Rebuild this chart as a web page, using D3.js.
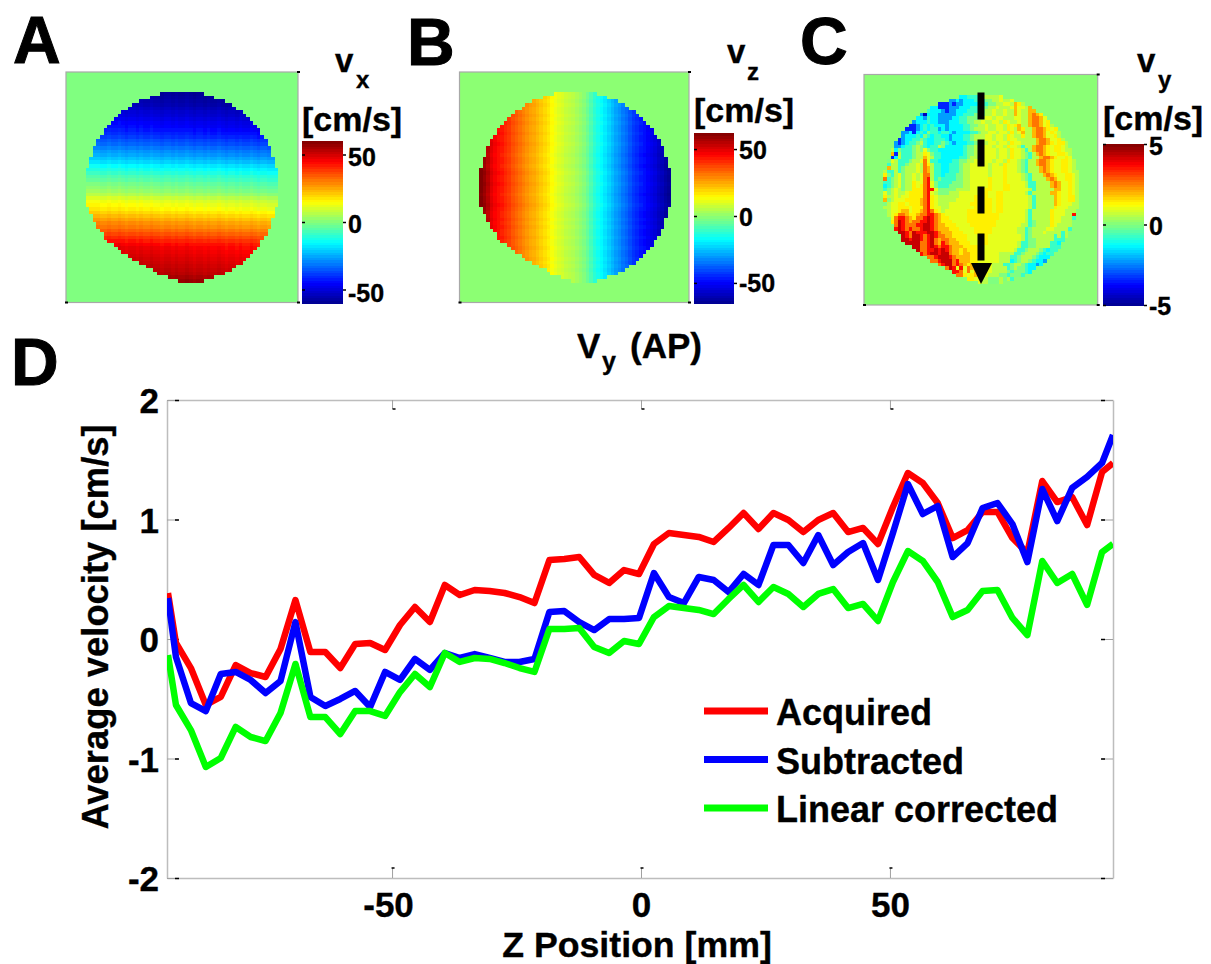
<!DOCTYPE html>
<html>
<head>
<meta charset="utf-8">
<title>Velocity maps and profile</title>
<script src="https://cdn.jsdelivr.net/npm/d3@7"></script>
<style>
    body { margin: 0; background: #fff; }
    svg { display: block; }
    text { font-family: "Liberation Sans", Arial, sans-serif; font-weight: bold; fill: #000; stroke: #000; stroke-width: 0.35; }
</style>
</head>
<body>
<div id="chart"></div>
<script>
// D panel, values
const zPosition = [-95, -93.4, -90.4, -87.4, -84.4, -81.4, -78.4, -75.4, -72.4, -69.4, -66.4, -63.4, -60.4, -57.4, -54.4, -51.4,
    -48.4, -45.4, -42.4, -39.4, -36.4, -33.4, -30.4, -27.4, -24.4, -21.4, -18.4, -15.4, -12.4, -9.4, -6.4, -3.4,
    -0.4, 2.6, 5.6, 8.6, 11.6, 14.6, 17.6, 20.6, 23.6, 26.6, 29.6, 32.6, 35.6, 38.6, 41.6, 44.6,
    47.6, 50.6, 53.6, 56.6, 59.6, 62.6, 65.6, 68.6, 71.6, 74.6, 77.6, 80.6, 83.6, 86.6, 89.6, 92.6, 94.8];
const acquired = [.385, -.033, -.243, -.552, -.485, -.218, -.285, -.318, -.084, .326, -.109, -.109, -.243, -.042, -.033, -.092,
    .117, .268, .142, .452, .368, .41, .402, .385, .351, .301, .661, .669, .686, .536, .469, .577,
    .544, .795, .887, .87, .854, .812, .929, 1.054, .921, 1.054, .996, .895, .996, 1.054, .895, .929,
    .795, 1.105, 1.389, 1.305, 1.138, .845, .912, 1.063, 1.063, .845, .72, 1.322, 1.146, 1.188, .954, 1.397, 1.473];
const subtracted = [.343, -.151, -.536, -.603, -.293, -.276, -.343, -.452, -.351, .142, -.485, -.561, -.502, -.435, -.569, -.276,
    -.343, -.167, -.259, -.117, -.159, -.126, -.159, -.192, -.192, -.167, .226, .234, .142, .075, .167, .167,
    .176, .552, .351, .301, .519, .494, .393, .544, .452, .787, .787, .636, .87, .619, .728, .803,
    .494, .887, 1.297, 1.046, 1.113, .686, .803, 1.096, 1.138, .962, .644, 1.255, .987, 1.264, 1.356, 1.473, 1.707];
const linearCorrected = [-.134, -.552, -.762, -1.071, -.996, -.736, -.82, -.854, -.619, -.209, -.653, -.653, -.795, -.603, -.603, -.644,
    -.444, -.293, -.402, -.117, -.192, -.159, -.167, -.201, -.243, -.276, .084, .084, .092, -.067, -.117, -.017,
    -.042, .184, .276, .259, .243, .209, .335, .452, .31, .435, .377, .268, .377, .418, .259, .293,
    .151, .477, .736, .653, .477, .184, .243, .402, .41, .176, .033, .653, .469, .544, .285, .728, .795];
const xTicks = [-50, 0, 50];
const yTicks = [-2, -1, 0, 1, 2];
const seriesNames = ["Acquired", "Subtracted", "Linear corrected"];
const seriesColors = ["#ff0000", "#0000ff", "#00ff00"];

// Map cells. Each row of the disk runs from diskStart to diskEnd
const diskStart = [21, 18, 15, 13, 12, 10, 9, 8, 7, 6, 5, 5, 4, 3, 3, 2, 2, 2, 1, 1, 1, 0, 0, 0, 0, 0, 0, 0, 0, 0, 0, 0,
    1, 1, 2, 2, 3, 3, 4, 5, 5, 6, 8, 9, 10, 12, 13, 15, 17, 19, 20, 23, 26];
const diskEnd = [32, 35, 38, 40, 41, 43, 44, 45, 46, 47, 48, 48, 49, 50, 50, 51, 51, 51, 52, 52, 52, 53, 53, 53, 53, 53, 53, 53, 53, 53, 53, 53,
    52, 52, 52, 51, 51, 51, 50, 50, 49, 48, 48, 47, 46, 45, 44, 43, 41, 40, 38, 35, 32];

// vx mostly changes from row to row
const vxRows = [-59, -58, -57, -56, -54, -52, -51, -49, -47, -46, -44, -42, -40, -37, -35, -32, -29, -27, -24, -21,
    -17, -14, -11, -8, -6, -3, -1, 1, 4, 8, 11, 13, 15, 18, 21, 24, 27, 29, 32, 35, 38, 41, 44, 46, 47, 48, 49, 50, 51, 52, 53, 55, 57];
const vxColOffset = [3, 3, 3, 3, 2, 2, 3, 2, 2, 3, 2, 1, 2, 2, 1, 2, 1, 1, 2, 1, 1, 0, 1, 1, 0, 1, 0, 0, 1, 0,
    -1, 0, 0, -1, 0, -1, -1, 0, -1, -2, -1, -1, -2, -1, -2, -2, -1, -2, -3, -2, -2, -3, -3, -3];

// vz mostly changes from column to column
const vzCols = [62, 59, 55, 50, 47, 45, 43, 41, 39, 36, 34, 32, 30, 28, 26, 25, 23, 21, 19, 17, 14, 12, 10, 9, 7, 6, 5, 3, 1, -1,
    -4, -8, -12, -15, -17, -20, -23, -26, -29, -31, -34, -36, -39, -42, -44, -46, -48, -50, -52, -54, -57, -59, -62, -64];
const vzRowOffset = [1, 1, 0, 1, 0, 0, 1, 0, 1, 0, 0, 1, 0, 0, 1, 0, 0, -1, 0, 0, -1, 0, 1, 0, 0, 1, 0, 0, -1, 0,
    0, 1, 0, -1, -1, 0, -1, 0, -1, -1, 0, -1, -1, 0, -1, -1, 0, -1, 0, -1, 0, 0, 0];

// vy is too streaky for profiles: one letter per cell, a row starts at diskStart
const vyLetters = "abcdefghijklm";
const vyLevels = [-4.5, -3.4, -2.2, -1.3, -0.7, 0, 0.55, 1, 1.4, 1.95, 2.6, 3.6, 4.3];
const vyRows = [
    "ddeeefgggggh",
    "ccdcdddeeeffgghggh",
    "bbbcbccddddeeeffgghhgjig",
    "ddbbbcccdddeeeffgghggghjhhgj",
    "edddcbccdddeeeffgghgghggjhggjj",
    "cadddcccccddeeefffgghgghggjhggjkji",
    "ddceddccccddeefffgghhghhggghhggjkkjh",
    "cdddeddcccdddeeffgghgghhgihgghggjkkjhi",
    "bbcdededddcddddeeffgghgghhgihijggjkkjhig",
    "bbbcdedeecdcddddeefggghgghhgihgjiggjkkjihi",
    "ccdbdedfeedeedcddddeefgghhghhgighjggjkkjhihg",
    "cdddedfedeeddcdddeefggghhghhgihggiggjkkjhhig",
    "bcddeefeddeeedcdddeefggghhghhgihhgggggjkkjhhig",
    "cbcdeefgeddeefedcdddeefggghhghhgihhggggjkkjihiig",
    "ccdeefgfedeegfdddddeffgghhhghhgihhgeggjkkjihiihg",
    "gdfeeefgfhfeedddddddeffgghhhhghhgihhgegjkkjihiihgg",
    "jbgeeefggihfeeddddddeffgghhhhghhgihhgfegjkjihhiihg",
    "bdgeeefggjhgeedddddeefgghhhhhghhgihhgfeggjkkjihhih",
    "fhgeeefgghkheeddddeeffgghhhhhghhgihhgfeggjkkjihhiihg",
    "eggeefgghgkigeeddeeefgghhhhhghhgihhhgfeggjkkjihhiihg",
    "jggefggghgkjgeeddeeefgghhhhhghhhihhhgfegggjkjihhiihg",
    "geegefggghgkjgeeddeeefgghhhhhghhhihhhgfegggjkjihhiihgg",
    "ifeghfgghghkkgeedeeeffgghhhhhghhhihhhhgfegggjkjihhiihg",
    "kefghfgghghklgefeeeeffgghhhhhihhhihhhhgfeggggjkjhhiihg",
    "eefghfggihhklhfeeeefffgghhhhhihhhihhhhhgeeggggjkjhhihg",
    "defghfggihiklhfeeeffffgghhhhhihhhiihhhhgeeggggjkjhhihg",
    "efghgfggiiikllhfffffgggghhhhiihhhiihhhhhgegggggjjhhihg",
    "hfghgghiiiiklhgfffggghhhhhiiihhiihhhhhhgegggggjjihhihg",
    "igghghhiiiiklihgggggghhhhiiiihhiihhhhhhhgegggggjihhiig",
    "jfghhhiiiijklihggggghhhhhiiiiihiihhhhhhhgegggggjihhiig",
    "fghhiihiiijklihggghhhhhhiiiiiihiihhhhhhhgegggggjihhhgg",
    "gghhiiihiiiklihhgghhhhhhhiiiiihiihhhhhhhgegggggihhhggg",
    "ghhijjhiijklkihghhhhhhiiiiiiihiihhhhhhgegggggihhhggg",
    "ghikkjiijkkllkjihhhhhhiiiiiiiiihhhhhhhgegggggihhhggl",
    "hkllkjikklmlkjiihhhhhiiiiiiiiihhhhhhhgegggggihhggge",
    "ikmlkjkkllmlkjiiihhhhiiiiiiiihhhhhhhhgefggggihhggg",
    "kmlkkkllmmlkjjiiihhhhiiiiiiihhhhhhhggefggggihgggg",
    "lmlklkklmmlkjjjiiihhhhiiiiihhhhhhhggefgggghhgggge",
    "mmlkmlllmmlkjjjiiihhhiiiiihhhhhhhggefggghggggeg",
    "mlkmmlklmlkkjjiiiihhhiiihhhhhhhhhgefggggggegeg",
    "mmlmmlklmkjkkjjiiihhhiiihhhhhhhhhgeffgggggeee",
    "mmmmkklmkjlkjjjiiihhhiihhhhhhhhgeeffggggeed",
    "mmkklmlkllkjjjiiiihhhhhhhhhhhgeeffggggeee",
    "mkkllmlmlkjjijiiihhhhhhhhhhgeefgggfedee",
    "lklmmlmmkjjijjiihhhhhhggggeefgggfedee",
    "kklmmmlkjjjjiihhhhhhgggeefgggfeddd",
    "kklmmmkljjjiihhhhhhgggdefggfeddc",
    "klmmklkjijihhhhgggeefggfeddcd",
    "kmlhlhkjjihhhggggefgffedd",
    "llkhkhjiihhggggfefffed",
    "kkihijihhgggffefffe",
    "iihhggfffgfge",
    "hggfffg"
];

const barTicksAB = [-50, 0, 50];
const barTicksC = [-5, 0, 5];

const width = 1211;
const height = 964;

const svg = d3.select("#chart").append("svg")
    .attr("width", width)
    .attr("height", height)
    .attr("viewBox", `0 0 ${width} ${height}`);

const defs = svg.append("defs");

// the maps are slightly soft in the original
defs.append("filter").attr("id", "soft")
    .attr("x", "-5%").attr("y", "-5%").attr("width", "110%").attr("height", "110%")
    .append("feGaussianBlur").attr("stdDeviation", 0.6);

// MATLAB jet between lo and hi
function jetScale(lo, hi) {
    const stops = [0, 1 / 8, 3 / 8, 5 / 8, 7 / 8, 1].map(t => lo + t * (hi - lo));
    return d3.scaleLinear()
        .domain(stops)
        .range(["#00008f", "#0000ff", "#00ffff", "#ffff00", "#ff0000", "#800000"])
        .clamp(true);
}

// Cell lists for the three maps
const vxCells = vxRows.flatMap((v, r) => d3.range(diskStart[r], diskEnd[r] + 1)
    .map(c => ({ r, c, v: v + vxColOffset[c] })));
const vzCells = vzRowOffset.flatMap((o, r) => d3.range(diskStart[r], diskEnd[r] + 1)
    .map(c => ({ r, c, v: vzCols[c] + o })));
const vyCells = vyRows.flatMap((row, r) => row.split("")
    .map((ch, i) => ({ r, c: diskStart[r] + i, v: vyLevels[vyLetters.indexOf(ch)] })));

function drawMap(p) {
    const color = jetScale(p.lo, p.hi);
    const g = svg.append("g");

    // background of the map
    g.append("rect")
        .attr("x", p.box[0]).attr("y", p.box[1])
        .attr("width", p.box[2] - p.box[0]).attr("height", p.box[3] - p.box[1])
        .attr("fill", color(p.bg))
        .attr("stroke", "#a8a8a8")
        .attr("stroke-width", 1.2);

    const cx = d3.scaleLinear().domain([0, 54]).range(p.diskX);
    const cy = d3.scaleLinear().domain([0, 53]).range(p.diskY);

    g.append("g")
        .attr("filter", "url(#soft)")
        .selectAll(".cell")
        .data(p.cells)
        .enter()
        .append("rect")
        .attr("class", "cell")
        .attr("x", d => cx(d.c))
        .attr("y", d => cy(d.r))
        .attr("width", cx(1) - cx(0) + 0.3)
        .attr("height", cy(1) - cy(0) + 0.3)
        .attr("shape-rendering", "crispEdges")
        .attr("fill", d => color(d.v));

    // tiny corner ticks
    g.selectAll(".corner")
        .data([[p.box[0], p.box[3]], [p.box[2], p.box[3]], [p.box[2], p.box[1]]])
        .enter()
        .append("rect")
        .attr("x", d => d[0] - 1).attr("y", d => d[1] - 1)
        .attr("width", 3).attr("height", 2)
        .attr("fill", "#000");

    // colorbar
    const barY = d3.scaleLinear().domain([p.lo, p.hi]).range([p.barBox[3], p.barBox[1]]);
    const levels = d3.range(64).map(i => p.lo + (i + 0.5) * (p.hi - p.lo) / 64);
    const step = (p.barBox[3] - p.barBox[1]) / 64;
    g.selectAll(".level")
        .data(levels)
        .enter()
        .append("rect")
        .attr("class", "level")
        .attr("x", p.barBox[0])
        .attr("y", d => barY(d) - step / 2)
        .attr("width", p.barBox[2] - p.barBox[0])
        .attr("height", step + 0.5)
        .attr("shape-rendering", "crispEdges")
        .attr("fill", d => color(d));

    const barAxis = g.append("g")
        .attr("transform", `translate(${p.barBox[2]},0)`)
        .call(d3.axisRight(barY).tickValues(p.ticks).tickSize(3).tickSizeOuter(0).tickPadding(2).tickFormat(d => d));
    barAxis.select(".domain").remove();
    barAxis.selectAll("line").attr("stroke", "#000").attr("stroke-width", 1.5);
    barAxis.selectAll("text")
        .attr("font-size", 25)
        .attr("dy", d => d === p.ticks[0] ? p.lowDy : (d === p.ticks[2] ? p.highDy : 10))
        .style("font-family", "'Liberation Sans', Arial, sans-serif");

    const barAxisLeft = g.append("g")
        .attr("transform", `translate(${p.barBox[0]},0)`)
        .call(d3.axisRight(barY).tickValues(p.ticks).tickSize(3).tickSizeOuter(0).tickFormat(""));
    barAxisLeft.select(".domain").remove();
    barAxisLeft.selectAll("line").attr("stroke", "#000").attr("stroke-width", 1.5);

    // panel letter and unit labels
    g.append("text").attr("x", p.letter[0]).attr("y", p.letter[1]).attr("font-size", 66).style("stroke-width", 1).text(p.name);
    g.append("text").attr("x", p.vPos[0]).attr("y", p.vPos[1]).attr("font-size", 33).text("v");
    g.append("text").attr("x", p.subPos[0]).attr("y", p.subPos[1]).attr("font-size", 24).text(p.sub);
    g.append("text").attr("x", p.unitPos[0]).attr("y", p.unitPos[1]).attr("font-size", 34).text("[cm/s]");
}

drawMap({
    name: "A", sub: "x", cells: vxCells, lo: -60, hi: 60, bg: 0, ticks: barTicksAB,
    box: [66, 72, 298, 302.5], diskX: [85.7, 278], diskY: [92.3, 282.3],
    barBox: [302, 141, 343, 303], lowDy: 12, highDy: 11,
    letter: [13, 63], vPos: [335, 72], subPos: [356, 88], unitPos: [302, 131]
});
drawMap({
    name: "B", sub: "z", cells: vzCells, lo: -65, hi: 62, bg: 0, ticks: barTicksAB,
    box: [459.5, 72, 689, 302.5], diskX: [479, 671], diskY: [92.3, 282.3],
    barBox: [694, 133, 734, 303], lowDy: 9, highDy: 9,
    letter: [407, 65], vPos: [727, 63], subPos: [747, 80], unitPos: [694, 122]
});
drawMap({
    name: "C", sub: "y", cells: vyCells, lo: -5, hi: 5, bg: 0.1, ticks: barTicksC,
    box: [864, 74.5, 1097.7, 305], diskX: [883.3, 1079], diskY: [95, 284],
    barBox: [1103, 144, 1144, 305], lowDy: 9, highDy: 10,
    letter: [800, 64], vPos: [1137, 72], subPos: [1158, 88], unitPos: [1103, 130]
});

// Dashed arrow down panel C
svg.append("line")
    .attr("x1", 981).attr("y1", 92.5)
    .attr("x2", 981).attr("y2", 261)
    .attr("stroke", "#000")
    .attr("stroke-width", 7)
    .attr("stroke-dasharray", "27 20");
svg.append("path")
    .attr("d", "M 971,263 L 992,263 L 981,284 Z")
    .attr("fill", "#000");

// V_y label under the maps
svg.append("text").attr("x", 577).attr("y", 358).attr("font-size", 35).text("V");
svg.append("text").attr("x", 602).attr("y", 370).attr("font-size", 25).text("y");
svg.append("text").attr("x", 630).attr("y", 358).attr("font-size", 35).text("(AP)");

// D panel
svg.append("text").attr("x", 11).attr("y", 385).attr("font-size", 66).style("stroke-width", 1).text("D");

const margin = { top: 400, right: 98, bottom: 86, left: 167 };
const x = d3.scaleLinear().domain([-95.2, 94.8]).range([margin.left, width - margin.right]);
const y = d3.scaleLinear().domain([-2, 2]).range([height - margin.bottom, margin.top]);

defs.append("clipPath").attr("id", "plotClip")
    .append("rect")
    .attr("x", margin.left).attr("y", margin.top)
    .attr("width", width - margin.right - margin.left)
    .attr("height", height - margin.bottom - margin.top);

// Ticks are a thin grey stub with a small black tip
function styleAxis(g, tip) {
    g.select(".domain").attr("stroke", "#bdbdbd").attr("stroke-width", 1.5);
    g.selectAll(".tick line").attr("stroke", "#a0a0a0").attr("stroke-width", 1);
    g.selectAll(".tick").append("line")
        .attr("x1", tip[0]).attr("y1", tip[1])
        .attr("x2", tip[2]).attr("y2", tip[3])
        .attr("stroke", "#000")
        .attr("stroke-width", 1.5);
    g.selectAll("text")
        .attr("font-size", 35)
        .style("font-family", "'Liberation Sans', Arial, sans-serif");
}

svg.append("g")
    .attr("transform", `translate(0,${y(-2)})`)
    .call(d3.axisBottom(x).tickValues(xTicks).tickSize(-10).tickSizeOuter(0).tickPadding(14).tickFormat(d => d))
    .call(styleAxis, [-1, -10, 2, -10])
    .selectAll("text").attr("dx", d => d < 0 ? -4 : 0);
svg.append("g")
    .attr("transform", `translate(0,${y(2)})`)
    .call(d3.axisTop(x).tickValues(xTicks).tickSize(-9).tickSizeOuter(0).tickFormat(""))
    .call(styleAxis, [0, 9, 3, 9]);
svg.append("g")
    .attr("transform", `translate(${x.range()[0]},0)`)
    .call(d3.axisLeft(y).tickValues(yTicks).tickSize(-11).tickSizeOuter(0).tickPadding(8).tickFormat(d => d))
    .call(styleAxis, [8, 0, 12, 0])
    .selectAll("text").attr("dy", 12.5);
svg.append("g")
    .attr("transform", `translate(${x.range()[1]},0)`)
    .call(d3.axisRight(y).tickValues(yTicks).tickSize(-11).tickSizeOuter(0).tickFormat(""))
    .call(styleAxis, [-8, 0, -12, 0]);

const line = d3.line()
    .x((d, i) => x(zPosition[i]))
    .y(d => y(d));

[acquired, subtracted, linearCorrected].forEach((series, i) => {
    svg.append("path")
        .attr("d", line(series))
        .attr("clip-path", "url(#plotClip)")
        .style("fill", "none")
        .style("stroke", seriesColors[i])
        .style("stroke-width", 6.5)
        .style("stroke-linejoin", "round");
});

// Legend
seriesNames.forEach((name, i) => {
    const ly = 711 + i * 48.5;
    svg.append("line")
        .attr("x1", 704).attr("y1", ly)
        .attr("x2", 768).attr("y2", ly)
        .attr("stroke", seriesColors[i])
        .attr("stroke-width", 7);
    svg.append("text")
        .attr("x", 776).attr("y", ly + 14)
        .attr("font-size", 36)
        .text(name);
});

// Axis titles
svg.append("text")
    .attr("x", 637).attr("y", 957)
    .attr("text-anchor", "middle")
    .attr("font-size", 35.7)
    .text("Z Position [mm]");
svg.append("text")
    .attr("transform", "translate(108,627) rotate(-90)")
    .attr("text-anchor", "middle")
    .attr("font-size", 36.4)
    .text("Average velocity [cm/s]");
</script>
</body>
</html>
